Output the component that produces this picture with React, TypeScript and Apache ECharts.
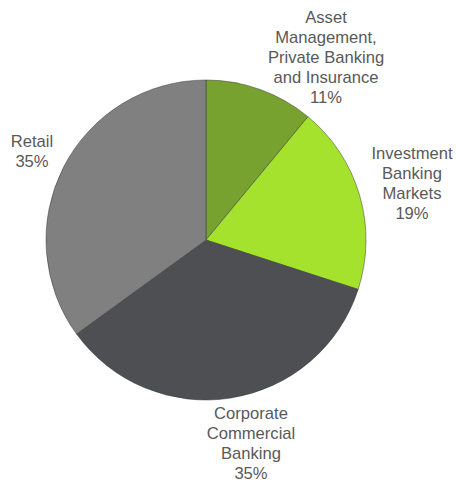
import React, { useEffect, useRef } from "react";
import * as echarts from "echarts";

const categories = [
  "Asset\nManagement,\nPrivate Banking\nand Insurance",
  "Investment\nBanking\nMarkets",
  "Corporate\nCommercial\nBanking",
  "Retail",
];
const values = [11, 19, 35, 35];
const colors = ["#77a22f", "#a4e22e", "#4d4f53", "#808080"];

export default function App() {
  const ref = useRef<HTMLDivElement>(null);
  useEffect(() => {
    document.body.style.margin = "0";
    const chart = echarts.init(ref.current!, null, { renderer: "svg" });
    const labelPos = [
      [326, 57],
      [412, 183],
      [251, 443],
      [32, 151],
    ];
    chart.setOption({
      animation: false,
      series: [
        {
          type: "pie",
          center: [206, 240],
          radius: [0, 160],
          startAngle: 90,
          clockwise: true,
          avoidLabelOverlap: false,
          data: categories.map((name, i) => ({
            name,
            value: values[i],
            itemStyle: { color: colors[i] },
          })),
          itemStyle: { borderColor: "rgba(50,50,50,0.6)", borderWidth: 0.8 },
          label: {
            show: true,
            position: "outside",
            formatter: (p: any) => `${p.name}\n${p.value}%`,
            color: "#595959",
            fontFamily: "Liberation Sans, Arial, sans-serif",
            fontSize: 16.6,
            lineHeight: 20,
            align: "center",
            overflow: "none",
            width: 200,
          },
          labelLine: { show: false },
          labelLayout: (p: any) => ({
            x: labelPos[p.dataIndex][0],
            y: labelPos[p.dataIndex][1],
            align: "center",
            verticalAlign: "middle",
            hideOverlap: false,
            moveOverlap: null,
          }),
          emphasis: { disabled: true },
        },
      ],
    });
    return () => chart.dispose();
  }, []);
  return <div ref={ref} style={{ width: 456, height: 485 }} />;
}
